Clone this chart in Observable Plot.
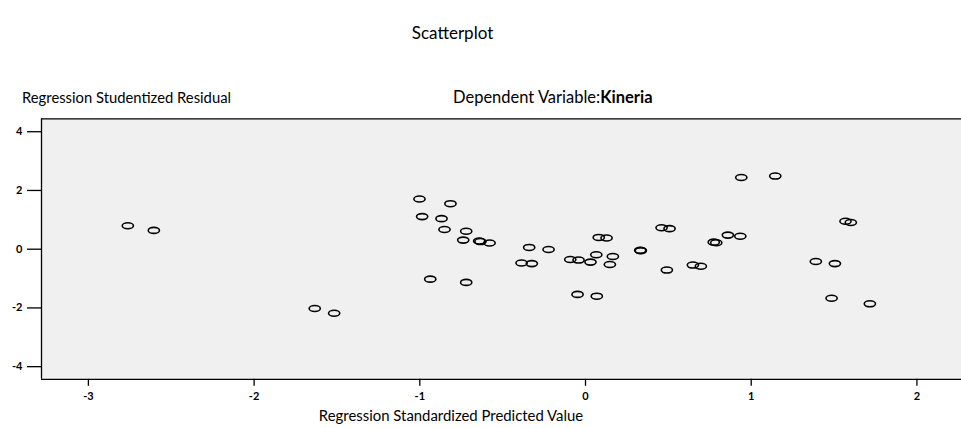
<!DOCTYPE html>
<html>
<head>
<meta charset="utf-8">
<script src="https://cdn.jsdelivr.net/npm/d3@7"></script>
<script src="https://cdn.jsdelivr.net/npm/@observablehq/plot@0.6"></script>
<style>
  html, body { margin: 0; padding: 0; background: #fff; }
  #wrap { position: relative; width: 961px; height: 428px; overflow: hidden; font-family: Lato, "Open Sans", sans-serif; }
  #overlay { position: absolute; left: 0; top: 0; pointer-events: none; }
  #chart { position: absolute; left: 0; top: 110px; }
</style>
</head>
<body>
<div id="wrap">
  <div id="chart"></div>
  <svg id="overlay" width="961" height="428" font-family="Lato, 'Open Sans', sans-serif" fill="#000">
    <text x="452.5" y="39" text-anchor="middle" font-size="17">Scatterplot</text>
    <text x="22" y="103" font-size="14.8">Regression Studentized Residual</text>
    <text x="453" y="102.5" font-size="16.5">Dependent Variable:<tspan font-weight="bold">Kineria</tspan></text>
    <text x="451" y="420.5" text-anchor="middle" font-size="14.9">Regression Standardized Predicted Value</text>
  </svg>
</div>
<script>
// Regression Standardized Predicted Value (x) and Studentized Residual (y)
const predicted = [
  -2.762, -2.605, -1.634, -1.517, -1.002, -0.815, -0.986, -0.869, -0.851, -0.720,
  -0.738, -0.642, -0.634, -0.579, -0.340, -0.223, -0.386, -0.324, -0.092, -0.042,
   0.030,  0.065,  0.165,  0.147,  0.080,  0.127,  0.330,  0.334,  0.459,  0.507,
   0.491, -0.937, -0.720, -0.048,  0.068,  0.940,  1.145,  1.569,  1.601,  0.774,
   0.789,  0.859,  0.934,  0.648,  0.696,  1.390,  1.505,  1.485,  1.716
];
const residual = [
   0.80,  0.64, -2.02, -2.18,  1.71,  1.55,  1.11,  1.04,  0.67,  0.61,
   0.31,  0.28,  0.26,  0.21,  0.06, -0.01, -0.47, -0.49, -0.35, -0.37,
  -0.44, -0.19, -0.25, -0.52,  0.40,  0.38, -0.04, -0.05,  0.73,  0.70,
  -0.71, -1.02, -1.13, -1.54, -1.60,  2.44,  2.49,  0.95,  0.91,  0.24,
   0.22,  0.48,  0.44, -0.54, -0.58, -0.42, -0.49, -1.67, -1.86
];
const xTicks = [-3, -2, -1, 0, 1, 2];
const yTicks = [-4, -2, 0, 2, 4];
const xDomain = [-3.283, 2.269];
const yDomain = [-4.43, 4.44];

const points = predicted.map((x, i) => ({x, y: residual[i]}));

// hollow ellipse marker like SPSS
const ellipse = {
  draw(ctx) {
    const rx = 5.6, ry = 3.0, k = 0.5523;
    ctx.moveTo(rx, 0);
    ctx.bezierCurveTo(rx, ry * k, rx * k, ry, 0, ry);
    ctx.bezierCurveTo(-rx * k, ry, -rx, ry * k, -rx, 0);
    ctx.bezierCurveTo(-rx, -ry * k, -rx * k, -ry, 0, -ry);
    ctx.bezierCurveTo(rx * k, -ry, rx, -ry * k, rx, 0);
    ctx.closePath();
  }
};

const fmt = d => String(d);

const chart = Plot.plot({
  width: 961,
  height: 318,
  marginLeft: 41,
  marginRight: 0,
  marginTop: 8.3,
  marginBottom: 49.2,
  style: {background: "transparent", fontFamily: "Lato, 'Open Sans', sans-serif", overflow: "visible"},
  x: {domain: xDomain, range: [41, 961]},
  y: {domain: yDomain, range: [268.8, 8.3]},
  marks: [
    Plot.frame({fill: "#f0f0f0", stroke: null}),
    Plot.ruleY([yDomain[0], yDomain[1]], {stroke: "#000", strokeWidth: 1.3}),
    Plot.ruleX([xDomain[0]], {stroke: "#000", strokeWidth: 1.3}),
    Plot.axisX({ticks: xTicks, tickSize: 7, tickPadding: 6, tickFormat: fmt, label: null,
      fontSize: 11, fontWeight: "bold", stroke: "#000", strokeWidth: 1.3}),
    Plot.axisY({ticks: yTicks, tickSize: 14, tickPadding: 5, tickFormat: fmt, label: null,
      fontSize: 11, fontWeight: "bold", stroke: "#000", strokeWidth: 1.3}),
    Plot.dot(points, {x: "x", y: "y", symbol: ellipse, fill: "none", stroke: "#000", strokeWidth: 1.6})
  ]
});
document.getElementById("chart").appendChild(chart);
</script>
</body>
</html>
